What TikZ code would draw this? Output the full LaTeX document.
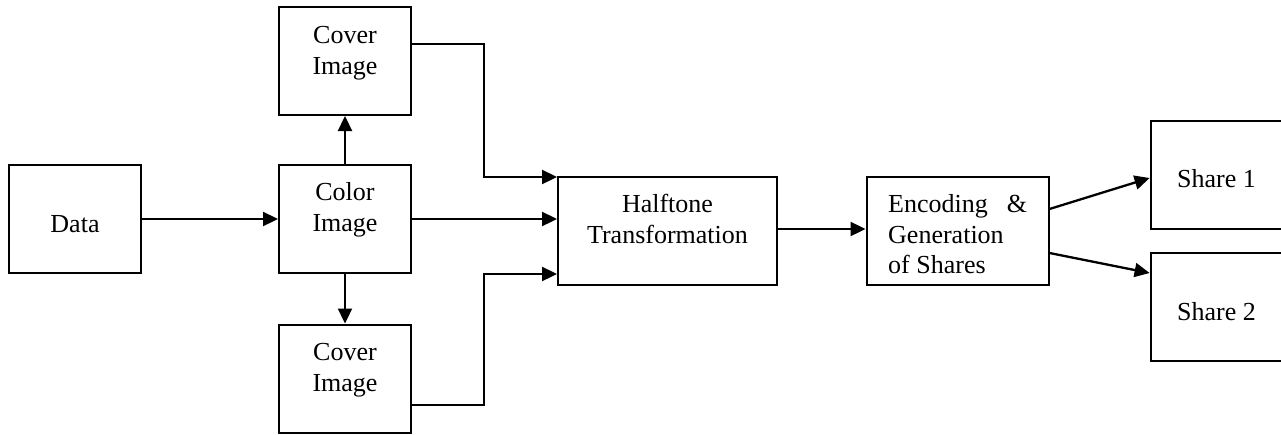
\documentclass[tikz,border=0pt]{standalone}
\usepackage{fontspec}
\setmainfont{Liberation Serif}
\usetikzlibrary{arrows.meta}
\begin{document}
\begin{tikzpicture}[x=1pt,y=-1pt,
  blk/.style={draw,line width=2pt,inner sep=0pt,minimum height=108pt},
  lbl/.style={inner sep=0pt,font=\fontsize{26}{30.5}\selectfont},
  conn/.style={line width=2.3pt,-{Triangle[length=15pt,width=14pt]}}]
\useasboundingbox (0,0) rectangle (1281,434);
\clip (0,0) rectangle (1281,434);
% boxes
\node[blk,minimum width=132pt] (data) at (75,219) {};
\node[blk,minimum width=132pt] (color) at (345,219) {};
\node[blk,minimum width=132pt] (cov1) at (345,61) {};
\node[blk,minimum width=132pt] (cov2) at (345,378.5) {};
\node[blk,minimum width=219pt] (half) at (667.5,231) {};
\node[blk,minimum width=182pt] (enc) at (957.5,231) {};
\node[blk,minimum width=140pt] (sh1) at (1220.6,175) {};
\node[blk,minimum width=140pt] (sh2) at (1220.6,307) {};
% texts
\node[lbl,anchor=base] (datat) at (75,232) {Data};
\node[lbl,anchor=north,align=center] (colort) at (345,179) {\strut Color\\Image};
\node[lbl,anchor=north,align=center] (cov1t) at (345,22) {\strut Cover\\Image};
\node[lbl,anchor=north,align=center] (cov2t) at (345,339) {\strut Cover\\Image};
\node[lbl,anchor=north,align=center] (halft) at (667.5,191) {\strut Halftone\\Transformation};
\node[lbl,anchor=north west,align=left] (enct) at (888,191) {\strut\makebox[139pt][s]{Encoding \&}\\Generation\\of Shares};
\node[lbl,anchor=base west] (sh1t) at (1177,187) {Share 1};
\node[lbl,anchor=base west] (sh2t) at (1177,320) {Share 2};
% connectors
\draw[conn] (data.east) -- (color.west);
\draw[conn] (color.north) -- (cov1.south);
\draw[conn] (color.south) -- (cov2.north);
\draw[conn] (color.east) -- ([yshift=12pt]half.west);
\draw[conn] ([yshift=17pt]cov1.east) -| ([xshift=-73pt,yshift=-1pt]half.north west) -- ([yshift=-1pt]half.north west);
\draw[conn] ([yshift=-26.5pt]cov2.east) -| ([xshift=-73pt,yshift=12pt]half.south west) -- ([yshift=12pt]half.south west);
\draw[conn] ([yshift=2pt]half.east) -- ([yshift=2pt]enc.west);
\draw[conn] ([yshift=22pt]enc.east) -- ([yshift=-3pt]sh1.west);
\draw[conn] ([yshift=-22pt]enc.east) -- ([yshift=34pt]sh2.west);
\end{tikzpicture}
\end{document}
